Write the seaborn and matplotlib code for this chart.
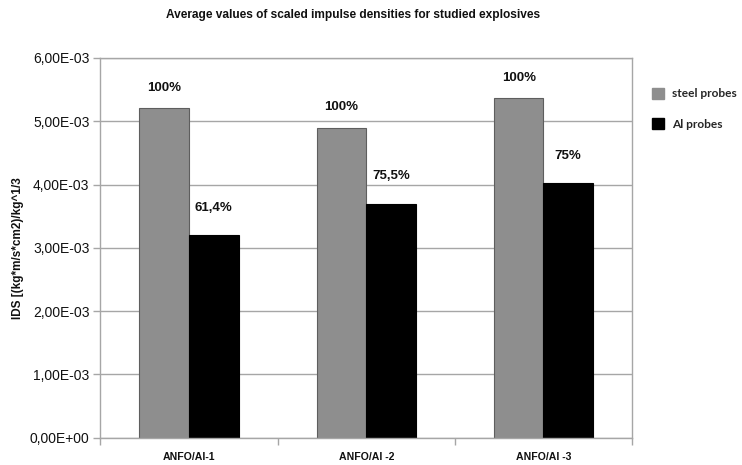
import matplotlib
matplotlib.use("Agg")
import matplotlib.pyplot as plt
from matplotlib.ticker import FuncFormatter, FixedLocator
import seaborn as sns
import pandas as pd

# Average scaled impulse densities per explosive and probe material
explosives = ["ANFO/Al-1", "ANFO/Al -2", "ANFO/Al -3"]
probes = ["steel probes", "Al probes"]
steel_ids = [5.21e-3, 4.90e-3, 5.37e-3]
al_ids = [3.20e-3, 3.70e-3, 4.03e-3]
steel_pct = ["100%", "100%", "100%"]
al_pct = ["61,4%", "75,5%", "75%"]

df = pd.DataFrame({
    "explosive": explosives * 2,
    "probe": [probes[0]] * 3 + [probes[1]] * 3,
    "ids": steel_ids + al_ids,
})

sns.set_theme(style="white")
plt.rcParams["font.family"] = ["Liberation Sans", "DejaVu Sans"]

fig = plt.figure(figsize=(7.42, 4.65), dpi=100)
ax = fig.add_axes([0.1354, 0.0587, 0.7164, 0.8166])

grid_col = "#a6a6a6"
ax.set_axisbelow(True)
ax.yaxis.grid(True, color=grid_col, linewidth=1.0)

sns.barplot(
    data=df, x="explosive", y="ids", hue="probe",
    order=explosives, hue_order=probes,
    palette={"steel probes": "#8e8e8e", "Al probes": "#000000"},
    width=0.56, saturation=1, ax=ax, legend=True,
)
for bar in ax.containers[0]:
    bar.set_edgecolor("#5e5e5e")
    bar.set_linewidth(0.8)
for bar in ax.containers[1]:
    bar.set_edgecolor("#000000")
    bar.set_linewidth(0.8)

ax.set_ylim(0, 6e-3)
ax.set_xlim(-0.5, 2.5)
ax.yaxis.set_major_locator(FixedLocator([i * 1e-3 for i in range(7)]))
ax.yaxis.set_major_formatter(
    FuncFormatter(lambda v, _: f"{v:.2E}".replace(".", ","))
)

for s in ["left", "right", "top", "bottom"]:
    ax.spines[s].set_visible(True)
    ax.spines[s].set_color(grid_col)
    ax.spines[s].set_linewidth(1.0)

ax.tick_params(axis="y", which="major", left=True, length=5, width=1,
               color=grid_col, labelsize=10, pad=3, labelcolor="#111111")
# Category labels sit between boundary ticks on the x axis
ax.set_xticks([0, 1, 2])
ax.set_xticklabels(explosives, fontweight="bold", fontsize=7.6)
ax.tick_params(axis="x", which="major", length=0, pad=10, labelcolor="#111111")
ax.xaxis.set_minor_locator(FixedLocator([-0.5, 0.5, 1.5, 2.5]))
ax.tick_params(axis="x", which="minor", bottom=True, length=5, width=1,
               color=grid_col)

ax.set_xlabel("")
ax.set_ylabel("IDS [(kg*m/s*cm2)/kg^1/3", fontsize=8.5, fontweight="bold",
              color="#111111", labelpad=4)

# Percentage labels over each bar
for bars, labels, off in [(ax.containers[0], steel_pct, 14.5),
                          (ax.containers[1], al_pct, 19.5)]:
    for bar, lab in zip(bars, labels):
        ax.annotate(lab, (bar.get_x() + bar.get_width() / 2, bar.get_height()),
                    xytext=(0, off), textcoords="offset points",
                    ha="center", va="center", fontsize=9.5, fontweight="bold",
                    color="#111111")

fig.text(0.476, 1 - 15 / 465, "Average values of scaled impulse densities for studied explosives",
         ha="center", va="center", fontsize=8.6, fontweight="bold", color="#111111")

leg = ax.legend(loc="upper left", bbox_to_anchor=(0.872, 0.822),
                bbox_transform=fig.transFigure, frameon=False,
                prop={"family": "Lato", "weight": "bold", "size": 8.6},
                handlelength=1.0, handleheight=1.05, handletextpad=0.7,
                labelspacing=1.6, borderaxespad=0)
for h in leg.legend_handles:
    h.set_edgecolor(h.get_facecolor())

fig.savefig("out.png", dpi=100)
